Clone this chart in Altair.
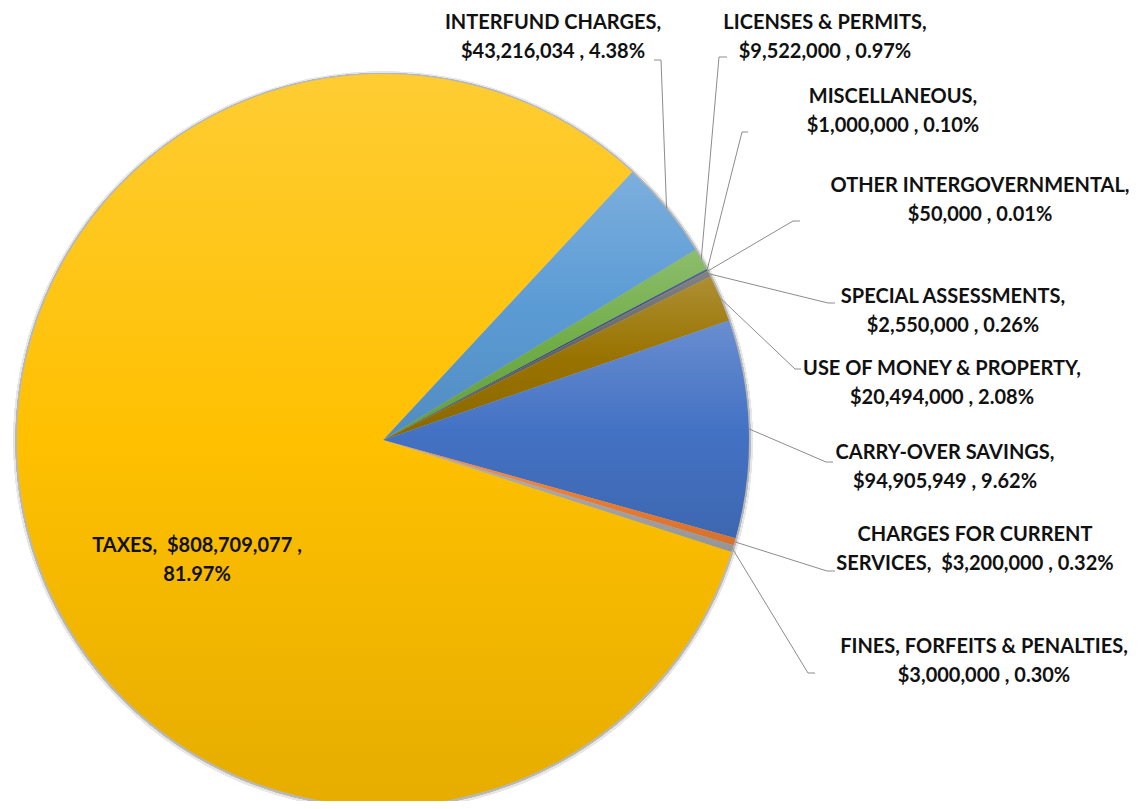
import math
import altair as alt
import pandas as pd

# ---------------- data ----------------
categories = [
    "INTERFUND CHARGES", "LICENSES & PERMITS", "MISCELLANEOUS",
    "OTHER INTERGOVERNMENTAL", "SPECIAL ASSESSMENTS", "USE OF MONEY & PROPERTY",
    "CARRY-OVER SAVINGS", "CHARGES FOR CURRENT SERVICES",
    "FINES, FORFEITS & PENALTIES", "TAXES",
]
amounts = [43216034, 9522000, 1000000, 50000, 2550000, 20494000,
           94905949, 3200000, 3000000, 808709077]
amount_labels = ["$43,216,034", "$9,522,000", "$1,000,000", "$50,000", "$2,550,000",
                 "$20,494,000", "$94,905,949", "$3,200,000", "$3,000,000", "$808,709,077"]
percent_labels = ["4.38%", "0.97%", "0.10%", "0.01%", "0.26%", "2.08%",
                  "9.62%", "0.32%", "0.30%", "81.97%"]

# ---------------- style / layout ----------------
colors = ["#5B9BD5", "#70AD47", "#264478", "#9E480E", "#636363", "#997300",
          "#4472C4", "#ED7D31", "#A5A5A5", "#FFC000"]

W, H = 1124, 793          # chart size (page minus 8px margin)
CX, CY, R = 375, 432, 366 # pie centre / radius in chart coords
START = math.radians(42.9)
NBSP = "\u00a0"

# label text (line break layout)
def label_for(i):
    name, amt, pct = categories[i], amount_labels[i], percent_labels[i]
    if name == "CHARGES FOR CURRENT SERVICES":
        return f"CHARGES FOR CURRENT\nSERVICES, {NBSP}{amt} , {pct}"
    if name == "TAXES":
        return f"{name}, {NBSP}{amt} ,\n{pct}"
    return f"{name},\n{amt} , {pct}"

# label centre x / first-line centre y (page coords) and leader elbow/end (page coords)
label_pos = {
    "INTERFUND CHARGES": (553, 23),
    "LICENSES & PERMITS": (825, 23),
    "MISCELLANEOUS": (893, 97),
    "OTHER INTERGOVERNMENTAL": (980, 186),
    "SPECIAL ASSESSMENTS": (953, 297),
    "USE OF MONEY & PROPERTY": (942, 369),
    "CARRY-OVER SAVINGS": (945, 453),
    "CHARGES FOR CURRENT SERVICES": (975, 535),
    "FINES, FORFEITS & PENALTIES": (984, 647),
    "TAXES": (197, 546),
}
leader_pts = {
    "INTERFUND CHARGES": [(661, 60), (654, 60)],
    "LICENSES & PERMITS": [(719, 57), (727, 57)],
    "MISCELLANEOUS": [(742, 132), (748, 132)],
    "OTHER INTERGOVERNMENTAL": [(793, 221), (800, 221)],
    "SPECIAL ASSESSMENTS": [(828, 303), (835, 303)],
    "USE OF MONEY & PROPERTY": [(795, 369), (801, 369)],
    "CARRY-OVER SAVINGS": [(826, 462), (833, 462)],
    "CHARGES FOR CURRENT SERVICES": [(827, 571), (835, 571)],
    "FINES, FORFEITS & PENALTIES": [(808, 673), (815, 673)],
}

total = sum(amounts)

df = pd.DataFrame({"category": categories, "amount": amounts,
                   "order": list(range(len(categories)))})

# leader lines: start on pie edge at slice mid-angle
rows = []
cum = 0
for i, cat in enumerate(categories):
    mid = START + 2 * math.pi * (cum + amounts[i] / 2) / total
    cum += amounts[i]
    if cat not in leader_pts:
        continue
    sx = CX + R * math.sin(mid)
    sy = CY - R * math.cos(mid)
    rows.append({"category": cat, "seq": 0, "px": sx, "py": sy})
    for k, (px, py) in enumerate(leader_pts[cat]):
        rows.append({"category": cat, "seq": k + 1, "px": px - 8, "py": py - 8})
lines_df = pd.DataFrame(rows)

labels_df = pd.DataFrame({
    "category": categories,
    "label": [label_for(i) for i in range(len(categories))],
    "tx": [label_pos[c][0] - 8 for c in categories],
    "ty": [label_pos[c][1] - 8 for c in categories],
})


def mix(hex_color, target, t):
    h = hex_color.lstrip("#")
    r, g, b = (int(h[j:j + 2], 16) for j in (0, 2, 4))
    tr, tg, tb = target
    r = round(r + (tr - r) * t)
    g = round(g + (tg - g) * t)
    b = round(b + (tb - b) * t)
    return f"#{r:02x}{g:02x}{b:02x}"


theta_scale = alt.Scale(domain=[0, total], range=[START, START + 2 * math.pi])

base = alt.Chart(df).transform_window(
    cum="sum(amount)", sort=[alt.SortField("order")], frame=[None, 0]
).transform_calculate(start="datum.cum - datum.amount")

# soft shadow
shadow = alt.layer(
    alt.Chart(df).mark_arc(theta=0, theta2=2 * math.pi, radius=R + 3.5,
                           fill="#e6e6e6").encode(x=alt.value(CX), y=alt.value(CY + 1)),
    alt.Chart(df).mark_arc(theta=0, theta2=2 * math.pi, radius=R + 1.5,
                           fill="#b8b8b8").encode(x=alt.value(CX), y=alt.value(CY + 0.5)),
)

slices = []
for cat, col in zip(categories, colors):
    grad = alt.Gradient(
        gradient="linear", x1=0, y1=0, x2=0, y2=1,
        stops=[
            alt.GradientStop(color=mix(col, (255, 255, 255), 0.20), offset=0),
            alt.GradientStop(color=col, offset=0.5),
            alt.GradientStop(color=mix(col, (0, 0, 0), 0.10), offset=1),
        ],
    )
    slices.append(
        base.transform_filter(alt.datum.category == cat)
        .mark_arc(radius=R, fill=grad, strokeWidth=0)
        .encode(
            theta=alt.Theta("start:Q", scale=theta_scale),
            theta2="cum:Q",
            x=alt.value(CX),
            y=alt.value(CY),
        )
    )

leaders = alt.Chart(lines_df).mark_line(color="#8c8c8c", strokeWidth=1).encode(
    x=alt.X("px:Q", scale=None, axis=None),
    y=alt.Y("py:Q", scale=None, axis=None),
    detail="category:N",
    order="seq:Q",
)

texts = alt.Chart(labels_df).mark_text(
    font="Lato", fontWeight="bold", fontSize=20, lineHeight=29,
    align="center", baseline="middle", lineBreak="\n", color="#111111",
).encode(
    x=alt.X("tx:Q", scale=None, axis=None),
    y=alt.Y("ty:Q", scale=None, axis=None),
    text="label:N",
)

chart = alt.layer(shadow, *slices, leaders, texts).properties(
    width=W, height=H, padding=0, autosize=alt.AutoSizeParams(type="none"),
    background="white",
).configure_view(stroke=None)

chart.save("out.html", embed_options={"renderer": "svg", "actions": False})
